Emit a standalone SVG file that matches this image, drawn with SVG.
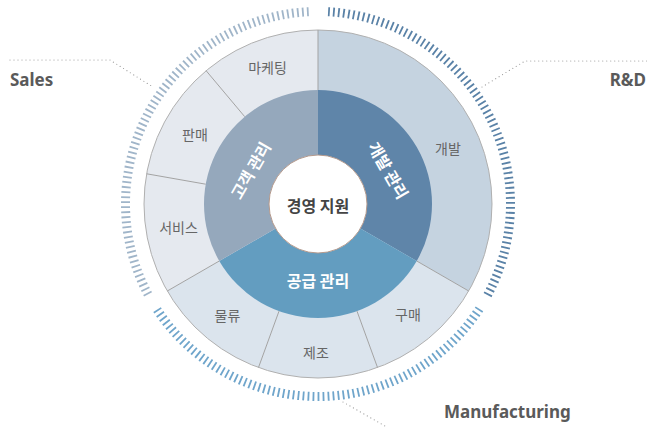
<svg xmlns="http://www.w3.org/2000/svg" width="647" height="427" viewBox="0 0 647 427">
<style>
.outerL{fill:#e5e9ef}
.outerB{fill:#dbe4ed}
.outerR{fill:#c5d3e0}
.div{stroke:#a3a3a3;stroke-width:1;fill:none}
.lbl{font-family:"Noto Sans CJK KR","Noto Sans",sans-serif;font-size:14px;fill:#666;text-anchor:middle;dominant-baseline:central}
.mid{font-family:"Noto Sans CJK KR","Noto Sans",sans-serif;font-size:16px;font-weight:bold;fill:#fff;text-anchor:middle;dominant-baseline:central}
.ctr{font-family:"Noto Sans CJK KR","Noto Sans",sans-serif;font-size:16px;font-weight:bold;fill:#444;text-anchor:middle;dominant-baseline:central}
.grp{font-family:"Noto Sans","Noto Sans CJK KR",sans-serif;font-size:17px;font-weight:bold;fill:#5a5a5a}
.tick{fill:none;stroke-width:9;stroke-dasharray:1.8 3.2}
.lead{fill:none;stroke:#9a9a9a;stroke-width:1.2;stroke-dasharray:0 4;stroke-linecap:round}
</style>
<rect width="647" height="427" fill="#ffffff"/>
<g id="ticks">
<path class="tick" stroke="#5a82a7" d="M328.08,11.76 A192.5,192.5 0 0 1 486.36,297.33"/>
<path class="tick" stroke="#6fa5cb" d="M479.44,308.84 A192.5,192.5 0 0 1 156.56,308.84"/>
<path class="tick" stroke="#a0b5c9" d="M148.03,294.37 A192.5,192.5 0 0 1 311.28,11.62"/>
</g>
<g id="connectors">
<polyline class="lead" points="10,60 110,60 153,87"/>
<polyline class="lead" points="482,87 525,61 647,61"/>
<polyline class="lead" points="343,402 392,430"/>
</g>
<g id="node-개발">
<path class="outerR" d="M318,204 L318,30 A174,174 0 0 1 468.69,291 Z"/>
<text class="lbl" x="448" y="148">개발</text>
</g>
<g id="node-구매">
<path class="outerB" d="M318,204 L468.69,291 A174,174 0 0 1 377.51,367.51 Z"/>
<text class="lbl" x="408" y="314">구매</text>
</g>
<g id="node-제조">
<path class="outerB" d="M318,204 L377.51,367.51 A174,174 0 0 1 258.49,367.51 Z"/>
<text class="lbl" x="316" y="352">제조</text>
</g>
<g id="node-물류">
<path class="outerB" d="M318,204 L258.49,367.51 A174,174 0 0 1 167.31,291 Z"/>
<text class="lbl" x="227.5" y="315">물류</text>
</g>
<g id="node-서비스">
<path class="outerL" d="M318,204 L167.31,291 A174,174 0 0 1 146.64,173.79 Z"/>
<text class="lbl" x="178.5" y="226.5">서비스</text>
</g>
<g id="node-판매">
<path class="outerL" d="M318,204 L146.64,173.79 A174,174 0 0 1 206.15,70.72 Z"/>
<text class="lbl" x="195" y="134">판매</text>
</g>
<g id="node-마케팅">
<path class="outerL" d="M318,204 L206.15,70.72 A174,174 0 0 1 318,30 Z"/>
<text class="lbl" x="267.5" y="67">마케팅</text>
</g>
<g id="outer-lines">
<circle cx="318" cy="204" r="174" fill="none" stroke="#b0b0b0" stroke-width="1"/>
<path class="div" d="M318,90 L318,30 M416.73,261 L468.69,291 M356.99,311.13 L377.51,367.51 M279.01,311.13 L258.49,367.51 M219.27,261 L167.31,291 M205.73,184.2 L146.64,173.79 M244.72,116.68 L206.15,70.72"/>
</g>
<g id="node-개발관리">
<path fill="#5f85a9" d="M318,204 L318,90 A114,114 0 0 1 416.73,261 Z"/>
<text class="mid" transform="translate(389,170) rotate(60)">개발 관리</text>
</g>
<g id="node-공급관리">
<path fill="#639dc0" d="M318,204 L416.73,261 A114,114 0 0 1 219.27,261 Z"/>
<text class="mid" x="318" y="280">공급 관리</text>
</g>
<g id="node-고객관리">
<path fill="#95a8bc" d="M318,204 L219.27,261 A114,114 0 0 1 318,90 Z"/>
<text class="mid" transform="translate(250,170) rotate(-60)">고객 관리</text>
</g>
<g id="node-경영지원">
<circle cx="318" cy="204" r="49" fill="#ffffff" stroke="#b4998c" stroke-width="1"/>
<text class="ctr" x="318" y="205">경영 지원</text>
</g>
<g id="group-labels">
<text class="grp" x="10" y="86">Sales</text>
<text class="grp" x="646" y="86" text-anchor="end">R&amp;D</text>
<text class="grp" x="444" y="418">Manufacturing</text>
</g>
</svg>
